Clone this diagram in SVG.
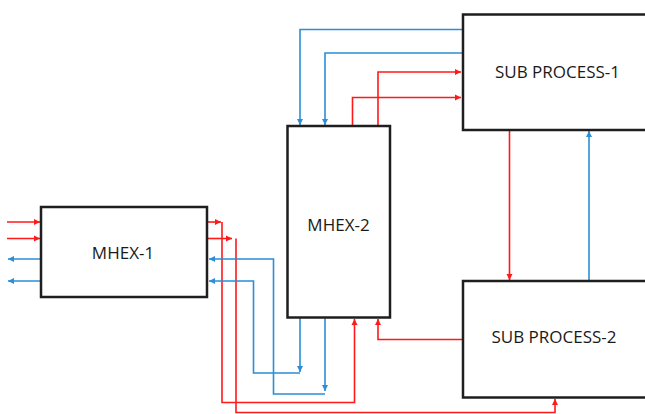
<svg xmlns="http://www.w3.org/2000/svg" width="645" height="414" viewBox="0 0 645 414">
<style>
.box{fill:#fff;stroke:#1e1e1e;stroke-width:2.5}
.lbl{font-family:"Open Sans","Liberation Sans",sans-serif;font-size:17px;fill:#1a1a1a;text-anchor:middle}
.r{fill:none;stroke:#ff1a1a;stroke-width:1.6}
.b{fill:none;stroke:#2a8fd6;stroke-width:1.6}
.ra{marker-end:url(#ar)}
.ba{marker-end:url(#ab)}
</style>
<defs>
<marker id="ar" markerUnits="userSpaceOnUse" markerWidth="7" markerHeight="7" refX="6" refY="3.5" orient="auto"><path d="M0,0.5 L6,3.5 L0,6.5 Z" fill="#ff1a1a"/></marker>
<marker id="ab" markerUnits="userSpaceOnUse" markerWidth="7" markerHeight="7" refX="6" refY="3.5" orient="auto"><path d="M0,0.5 L6,3.5 L0,6.5 Z" fill="#2a8fd6"/></marker>
</defs>
<rect width="645" height="414" fill="#fff"/>
<g id="connectors">
<path class="r ra" d="M7,222 H40"/>
<path class="r ra" d="M7,238.5 H40"/>
<path class="b ba" d="M41,259 H8"/>
<path class="b ba" d="M41,281 H8"/>
<path class="r ra" d="M207,222 H221"/>
<path class="r ra" d="M222,222 V402.5 H354.5 V319"/>
<path class="r ra" d="M207,238.5 H232"/>
<path class="r ra" d="M236,238.5 V412.5 H555 V399"/>
<path class="b ba" d="M300,318 V372"/>
<path class="b ba" d="M300,373 H253.5 V281 H209"/>
<path class="b ba" d="M325,318 V391"/>
<path class="b ba" d="M325,394 H273.5 V259 H209"/>
<path class="b ba" d="M462,29.5 H300 V125"/>
<path class="b ba" d="M462,53 H325 V125"/>
<path class="r ra" d="M378,126 V72 H461"/>
<path class="r ra" d="M352.5,126 V97.5 H461"/>
<path class="r ra" d="M509.5,131 V280"/>
<path class="b ba" d="M589,280 V131"/>
<path class="r ra" d="M463,339.5 H378 V319"/>
</g>
<g id="mhex1"><rect class="box" x="41" y="207" width="166" height="90"/><text class="lbl" x="123" y="259">MHEX-1</text></g>
<g id="mhex2"><rect class="box" x="287.5" y="126" width="102.5" height="191.5"/><text class="lbl" x="338.5" y="230.5">MHEX-2</text></g>
<g id="sp1"><rect class="box" x="463" y="14.5" width="200" height="115.5"/><text class="lbl" x="557.5" y="78">SUB PROCESS-1</text></g>
<g id="sp2"><rect class="box" x="463" y="281" width="200" height="116.5"/><text class="lbl" x="554" y="343">SUB PROCESS-2</text></g>
</svg>
